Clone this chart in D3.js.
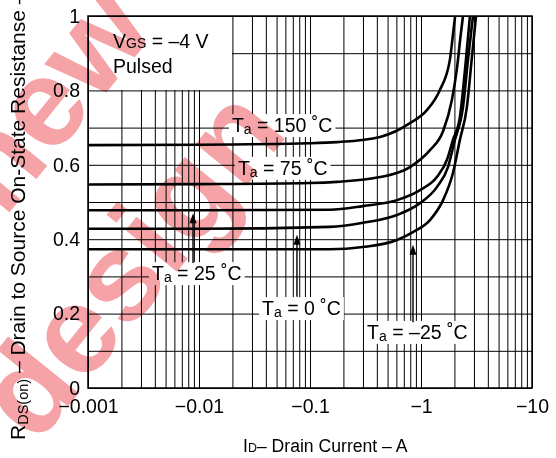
<!DOCTYPE html>
<html>
<head>
<meta charset="utf-8">
<script src="https://cdn.jsdelivr.net/npm/d3@7"></script>
<style>
  body { margin: 0; background: #fff; }
  svg { display: block; font-family: "Liberation Sans", Arial, sans-serif; }
</style>
</head>
<body>
<svg id="chart" width="556" height="458"></svg>
<script>
// axis ticks
var currentTicks = [0.001, 0.01, 0.1, 1, 10];
var currentTickLabels = ["\u22120.001", "\u22120.01", "\u22120.1", "\u22121", "\u221210"];
var resistanceTicks = [0, 0.2, 0.4, 0.6, 0.8, 1];
var resistanceTickLabels = ["0", "0.2", "0.4", "0.6", "0.8", "1"];

// series: [ |ID| (A), RDS(on) (ohm) ]
var temps = [150, 75, 25, 0, -25];
var curveTa150 = [[0.001, 0.653], [0.01, 0.654], [0.1, 0.658], [0.175, 0.661], [0.428, 0.675], [0.796, 0.712],
  [1.13, 0.747], [1.48, 0.801], [1.82, 0.882], [1.94, 0.95], [2.03, 1.0]];
var curveTa75 = [[0.001, 0.547], [0.01, 0.548], [0.1, 0.551], [0.175, 0.554], [0.428, 0.567], [0.796, 0.594],
  [1.21, 0.640], [1.58, 0.69], [1.90, 0.775], [2.11, 0.86], [2.28, 0.95], [2.39, 1.0]];
var curveTa25 = [[0.001, 0.478], [0.01, 0.478], [0.151, 0.479], [0.30, 0.489], [0.608, 0.505], [0.98, 0.532],
  [1.39, 0.567], [1.71, 0.613], [1.94, 0.667], [2.24, 0.728], [2.54, 0.882], [2.76, 1.0]];
var curveTa0 = [[0.001, 0.428], [0.01, 0.428], [0.151, 0.433], [0.30, 0.444], [0.608, 0.465], [0.98, 0.497],
  [1.39, 0.540], [1.75, 0.594], [2.02, 0.667], [2.39, 0.755], [2.65, 0.882], [2.94, 1.0]];
var curveTaM25 = [[0.001, 0.373], [0.01, 0.373], [0.151, 0.373], [0.30, 0.379], [0.608, 0.398], [0.847, 0.419],
  [1.21, 0.452], [1.58, 0.505], [1.94, 0.578], [2.24, 0.667], [2.59, 0.755], [2.86, 0.882], [3.13, 1.0]];
var curves = [curveTa150, curveTa75, curveTa25, curveTa0, curveTaM25];

// label anchors in data units (left, baseline) and arrows (x, from, to)
var labelAnchors = [[0.0198, 0.688], [0.0224, 0.573], [0.00377, 0.290], [0.037, 0.196], [0.327, 0.132]];
var arrows = [null, null, [0.00883, 0.336, 0.470], [0.0763, 0.245, 0.412], [0.847, 0.177, 0.385]];

var svg = d3.select("#chart");
var margin = {left: 88, top: 16, right: 24, bottom: 70};
var W = 556, H = 458;

var x = d3.scaleLog().domain([0.001, 10]).range([margin.left, W - margin.right]);
var y = d3.scaleLinear().domain([0, 1]).range([H - margin.bottom, margin.top]);

// watermark (under everything; chart layer is multiplied so black stays black)
var wm = svg.append("g")
  .attr("fill", "#f5a3a6")
  .attr("font-weight", "bold")
  .attr("font-size", 125);
wm.append("text")
  .attr("transform", "translate(157,30) rotate(-51)")
  .attr("text-anchor", "end")
  .text("Recommended for new");
wm.append("text")
  .attr("transform", "translate(36,446) rotate(-51)")
  .text("design");

// grid
var minorX = [];
currentTicks.slice(0, -1).forEach(function(d){
  for (var k = 1; k <= 9; k++) minorX.push(d * k);
});
minorX.push(10);
var gridY = d3.range(0, 11).map(function(i){ return i / 10; });

var layer = svg.append("g").style("mix-blend-mode", "multiply");

var grid = layer.append("g").attr("class", "grid");
grid.append("g")
  .attr("transform", "translate(0," + y(0) + ")")
  .call(d3.axisBottom(x).tickValues(minorX).tickSize(-(y(0) - y(1))).tickFormat(""))
  .call(function(g){ g.select(".domain").remove(); });
grid.append("g")
  .attr("transform", "translate(" + x(0.001) + ",0)")
  .call(d3.axisLeft(y).tickValues(gridY).tickSize(-(x(10) - x(0.001))).tickFormat(""))
  .call(function(g){ g.select(".domain").remove(); });
grid.selectAll("line").attr("stroke", "#000").attr("stroke-width", 1);

// blank box for VGS note (hides grid only)
layer.append("rect")
  .attr("x", x(0.001) + 1).attr("y", y(1) + 1)
  .attr("width", x(0.0198) - x(0.001) - 1).attr("height", y(0.801) - y(1) - 1)
  .attr("fill", "#fff");

layer.append("rect")
  .attr("x", x(0.001)).attr("y", y(1))
  .attr("width", x(10) - x(0.001)).attr("height", y(0) - y(1))
  .attr("fill", "none").attr("stroke", "#000").attr("stroke-width", 1.5);

// curves
svg.append("clipPath").attr("id", "plotClip")
  .append("rect")
  .attr("x", x(0.001)).attr("y", y(1))
  .attr("width", x(10) - x(0.001)).attr("height", y(0) - y(1));

var line = d3.line()
  .x(function(d){ return x(d[0]); })
  .y(function(d){ return y(d[1]); })
  .curve(d3.curveMonotoneX);

layer.append("g").attr("clip-path", "url(#plotClip)")
  .selectAll("path")
  .data(curves)
  .enter()
  .append("path")
  .attr("d", line)
  .attr("fill", "none")
  .attr("stroke", "#000")
  .attr("stroke-width", 2.6);

// tick labels
var fs = 19.5;
layer.append("g")
  .attr("transform", "translate(0," + y(0) + ")")
  .call(d3.axisBottom(x).tickValues(currentTicks).tickSize(0).tickPadding(11)
    .tickFormat(function(d, i){ return currentTickLabels[i]; }))
  .call(function(g){
    g.select(".domain").remove();
    g.selectAll("text").attr("font-size", fs).attr("font-family", "Liberation Sans, Arial, sans-serif").attr("fill", "#000");
  });
layer.append("g")
  .attr("transform", "translate(" + x(0.001) + ",0)")
  .call(d3.axisLeft(y).tickValues(resistanceTicks).tickSize(0).tickPadding(8)
    .tickFormat(function(d, i){ return resistanceTickLabels[i]; }))
  .call(function(g){
    g.select(".domain").remove();
    g.selectAll("text").attr("font-size", fs).attr("font-family", "Liberation Sans, Arial, sans-serif").attr("fill", "#000");
  });

// axis titles
var xt = layer.append("text")
  .attr("x", 243).attr("y", 452)
  .attr("font-size", 17.6);
xt.append("tspan").text("I");
xt.append("tspan").attr("font-size", 12.5).text("D");
xt.append("tspan").text("\u2013 Drain Current \u2013 A");

var yt = layer.append("text")
  .attr("transform", "translate(25,440) rotate(-90)")
  .attr("font-size", 21);
yt.append("tspan").text("R");
yt.append("tspan").attr("font-size", 14.5).attr("dy", 3).text("DS(on)");
yt.append("tspan").attr("dy", -3).text(" \u2013 Drain to Source On-State Resistanse \u2013 \u03a9");

// VGS note
var note = layer.append("text").attr("x", x(0.00168)).attr("y", y(0.914)).attr("font-size", 19.5);
note.append("tspan").text("V");
note.append("tspan").attr("font-size", 14).text("GS");
note.append("tspan").text(" = \u20134 V");
layer.append("text").attr("x", x(0.00168)).attr("y", y(0.847)).attr("font-size", 19.5).text("Pulsed");

// temperature labels
var labels = layer.append("g");
temps.forEach(function(t, i){
  var a = labelAnchors[i];
  var g = labels.append("g");
  var bg = g.append("rect").attr("fill", "#fff");
  var txt = g.append("text").attr("x", x(a[0])).attr("y", y(a[1])).attr("font-size", 19.5);
  txt.append("tspan").text("T");
  txt.append("tspan").attr("font-size", 14).attr("dy", 2).text("a");
  txt.append("tspan").attr("dy", -2).text(" = " + (t < 0 ? "\u2013" + (-t) : t) + " \u02daC");
  var b = txt.node().getBBox();
  bg.attr("x", b.x - 3).attr("y", b.y).attr("width", b.width + 6).attr("height", b.height);

  var ar = arrows[i];
  if (ar) {
    var ax = x(ar[0]);
    labels.append("line")
      .attr("x1", ax).attr("x2", ax)
      .attr("y1", y(ar[1])).attr("y2", y(ar[2]) + 8)
      .attr("stroke", "#000").attr("stroke-width", 1.4);
    labels.append("path")
      .attr("d", "M" + ax + "," + y(ar[2]) + "l-3.5,10h7z")
      .attr("fill", "#000");
  }
});
</script>
</body>
</html>
